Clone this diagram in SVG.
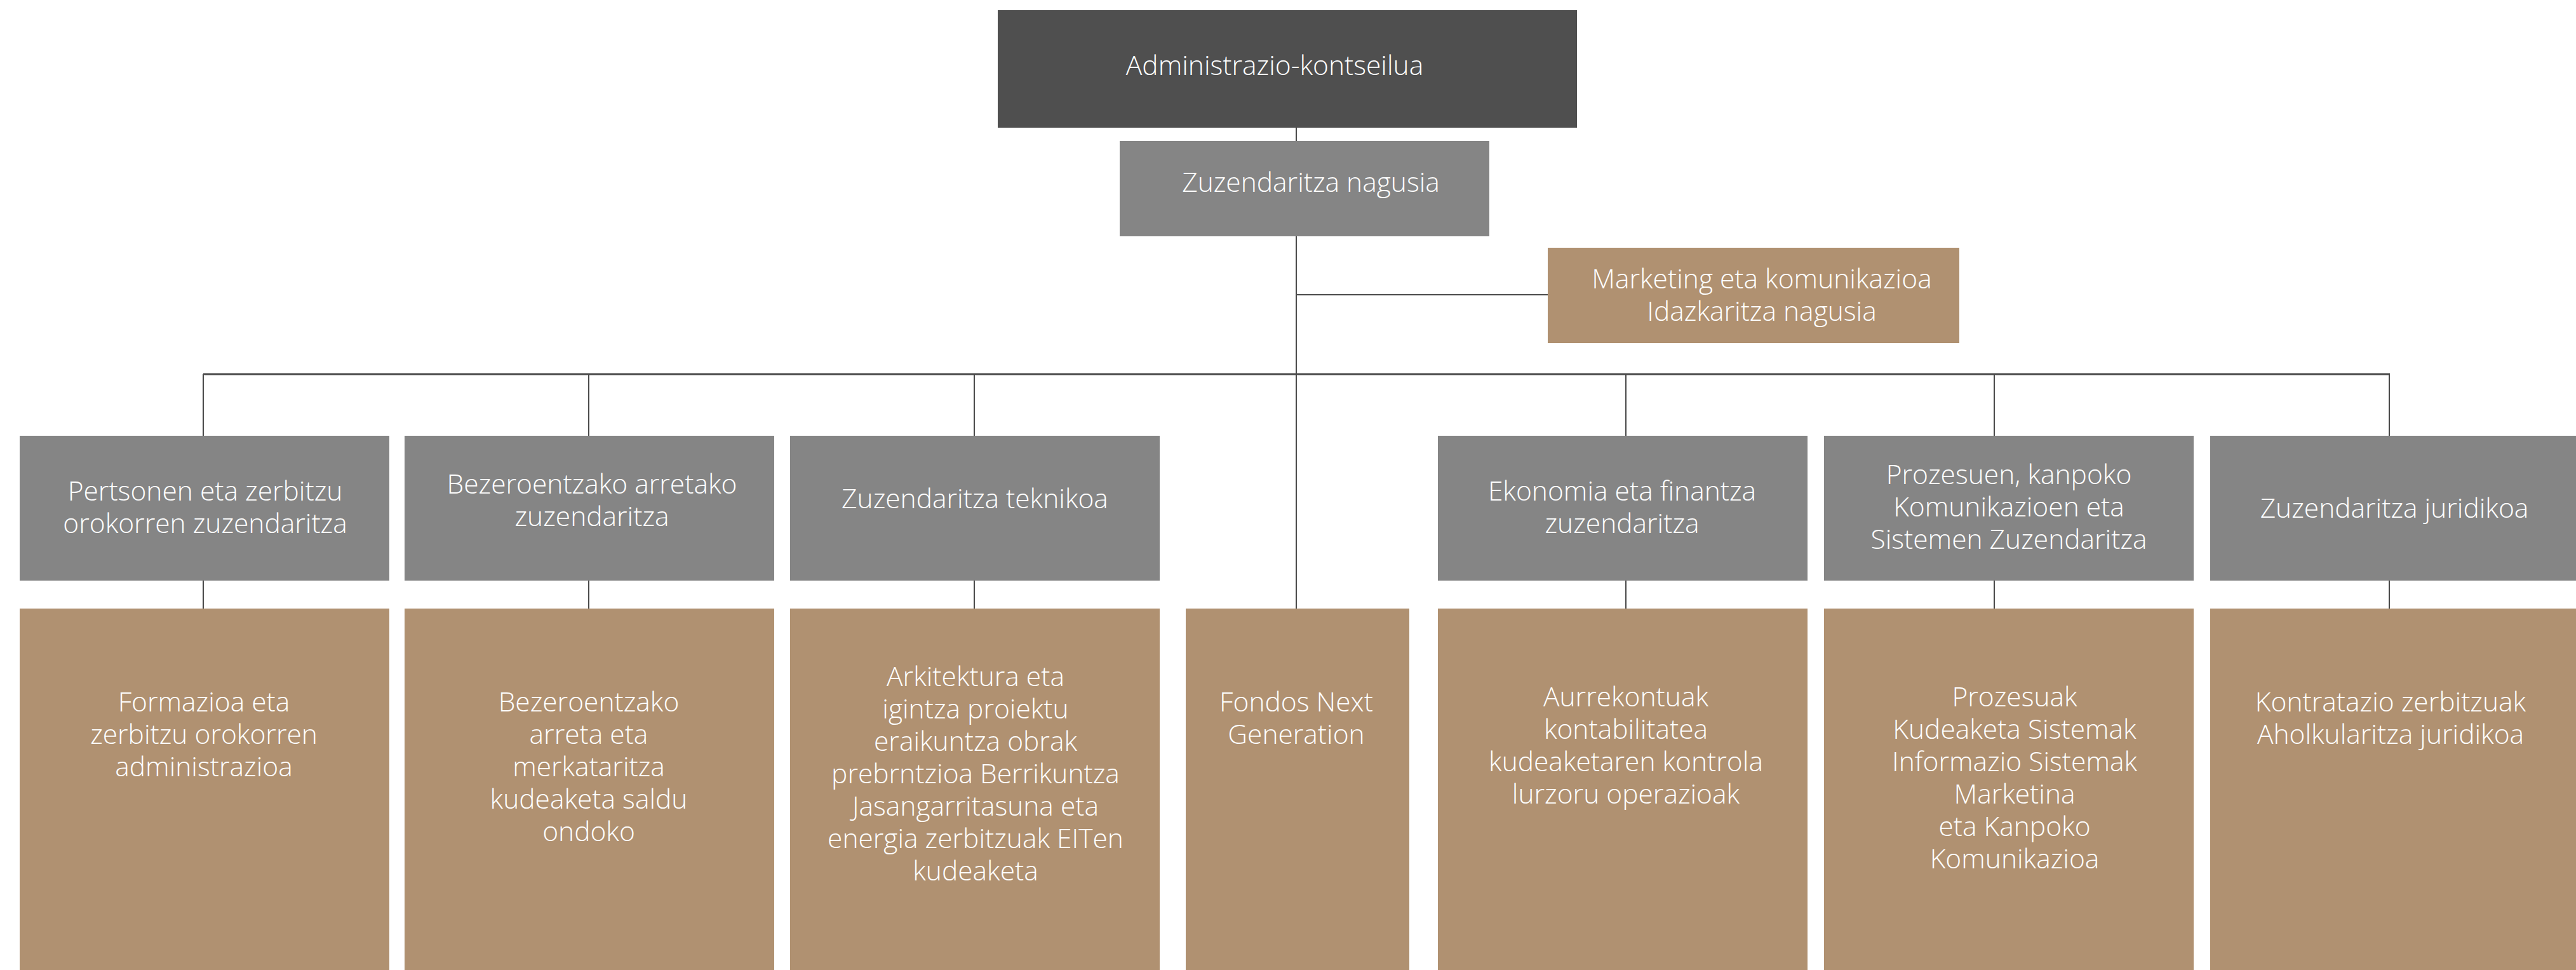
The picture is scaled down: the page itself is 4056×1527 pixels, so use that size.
<svg xmlns="http://www.w3.org/2000/svg" width="4056" height="1527" viewBox="0 0 4056 1527">
<style>
.t{font-family:"Open Sans","Liberation Sans",sans-serif;font-weight:300;font-size:42.5px;fill:#ffffff;text-anchor:middle}
.dark{fill:#4f4f4f}
.gray{fill:#858585}
.tan{fill:#b09171}
.c{stroke:#4a4a4a;stroke-width:2;fill:none}
.bus{stroke:#4a4a4a;stroke-width:3;fill:none}
</style>
<rect width="4056" height="1527" fill="#ffffff"/>
<g id="connectors">
<line class="c" x1="2041" y1="201" x2="2041" y2="958"/>
<line class="c" x1="2041" y1="464" x2="2437" y2="464"/>
<line class="bus" x1="320" y1="589" x2="3763" y2="589"/>
<line class="c" x1="320" y1="589" x2="320" y2="686"/>
<line class="c" x1="927" y1="589" x2="927" y2="686"/>
<line class="c" x1="1534" y1="589" x2="1534" y2="686"/>
<line class="c" x1="2560" y1="589" x2="2560" y2="686"/>
<line class="c" x1="3140" y1="589" x2="3140" y2="686"/>
<line class="c" x1="3762" y1="589" x2="3762" y2="686"/>
<line class="c" x1="320" y1="914" x2="320" y2="958"/>
<line class="c" x1="927" y1="914" x2="927" y2="958"/>
<line class="c" x1="1534" y1="914" x2="1534" y2="958"/>
<line class="c" x1="2560" y1="914" x2="2560" y2="958"/>
<line class="c" x1="3140" y1="914" x2="3140" y2="958"/>
<line class="c" x1="3762" y1="914" x2="3762" y2="958"/>
</g>
<g id="admin">
<rect class="dark" x="1571" y="16" width="912" height="185"/>
<text class="t" x="2007" y="118">Administrazio-kontseilua</text>
</g>
<g id="zuzendaritza-nagusia">
<rect class="gray" x="1763" y="222" width="582" height="150"/>
<text class="t" x="2064" y="302">Zuzendaritza nagusia</text>
</g>
<g id="marketing">
<rect class="tan" x="2437" y="390" width="648" height="150"/>
<text class="t" x="2774" y="454">Marketing eta komunikazioa</text>
<text class="t" x="2774" y="505">Idazkaritza nagusia</text>
</g>
<g id="pertsonen">
<rect class="gray" x="31" y="686" width="582" height="228"/>
<text class="t" x="323" y="788">Pertsonen eta zerbitzu</text>
<text class="t" x="323" y="839">orokorren zuzendaritza</text>
</g>
<g id="bezeroentzako">
<rect class="gray" x="637" y="686" width="582" height="228"/>
<text class="t" x="932" y="777">Bezeroentzako arretako</text>
<text class="t" x="932" y="828">zuzendaritza</text>
</g>
<g id="teknikoa">
<rect class="gray" x="1244" y="686" width="582" height="228"/>
<text class="t" x="1535" y="800">Zuzendaritza teknikoa</text>
</g>
<g id="ekonomia">
<rect class="gray" x="2264" y="686" width="582" height="228"/>
<text class="t" x="2554" y="788">Ekonomia eta finantza</text>
<text class="t" x="2554" y="839">zuzendaritza</text>
</g>
<g id="prozesuen">
<rect class="gray" x="2872" y="686" width="582" height="228"/>
<text class="t" x="3163" y="762">Prozesuen, kanpoko</text>
<text class="t" x="3163" y="813">Komunikazioen eta</text>
<text class="t" x="3163" y="864">Sistemen Zuzendaritza</text>
</g>
<g id="juridikoa">
<rect class="gray" x="3480" y="686" width="582" height="228"/>
<text class="t" x="3770" y="815">Zuzendaritza juridikoa</text>
</g>
<g id="formazioa">
<rect class="tan" x="31" y="958" width="582" height="580"/>
<text class="t" x="321" y="1120">Formazioa eta</text>
<text class="t" x="321" y="1171">zerbitzu orokorren</text>
<text class="t" x="321" y="1222">administrazioa</text>
</g>
<g id="bezeroentzako-arreta">
<rect class="tan" x="637" y="958" width="582" height="580"/>
<text class="t" x="927" y="1120">Bezeroentzako</text>
<text class="t" x="927" y="1171">arreta eta</text>
<text class="t" x="927" y="1222">merkataritza</text>
<text class="t" x="927" y="1273">kudeaketa saldu</text>
<text class="t" x="927" y="1324">ondoko</text>
</g>
<g id="arkitektura">
<rect class="tan" x="1244" y="958" width="582" height="580"/>
<text class="t" x="1536" y="1080">Arkitektura eta</text>
<text class="t" x="1536" y="1131">igintza proiektu</text>
<text class="t" x="1536" y="1182">eraikuntza obrak</text>
<text class="t" x="1536" y="1233">prebrntzioa Berrikuntza</text>
<text class="t" x="1536" y="1284">Jasangarritasuna eta</text>
<text class="t" x="1536" y="1335">energia zerbitzuak EITen</text>
<text class="t" x="1536" y="1386">kudeaketa</text>
</g>
<g id="fondos">
<rect class="tan" x="1867" y="958" width="352" height="580"/>
<text class="t" x="2041" y="1120">Fondos Next</text>
<text class="t" x="2041" y="1171">Generation</text>
</g>
<g id="aurrekontuak">
<rect class="tan" x="2264" y="958" width="582" height="580"/>
<text class="t" x="2560" y="1112">Aurrekontuak</text>
<text class="t" x="2560" y="1163">kontabilitatea</text>
<text class="t" x="2560" y="1214">kudeaketaren kontrola</text>
<text class="t" x="2560" y="1265">lurzoru operazioak</text>
</g>
<g id="prozesuak">
<rect class="tan" x="2872" y="958" width="582" height="580"/>
<text class="t" x="3172" y="1112">Prozesuak</text>
<text class="t" x="3172" y="1163">Kudeaketa Sistemak</text>
<text class="t" x="3172" y="1214">Informazio Sistemak</text>
<text class="t" x="3172" y="1265">Marketina</text>
<text class="t" x="3172" y="1316">eta Kanpoko</text>
<text class="t" x="3172" y="1367">Komunikazioa</text>
</g>
<g id="kontratazio">
<rect class="tan" x="3480" y="958" width="582" height="580"/>
<text class="t" x="3764" y="1120">Kontratazio zerbitzuak</text>
<text class="t" x="3764" y="1171">Aholkularitza juridikoa</text>
</g>
</svg>
